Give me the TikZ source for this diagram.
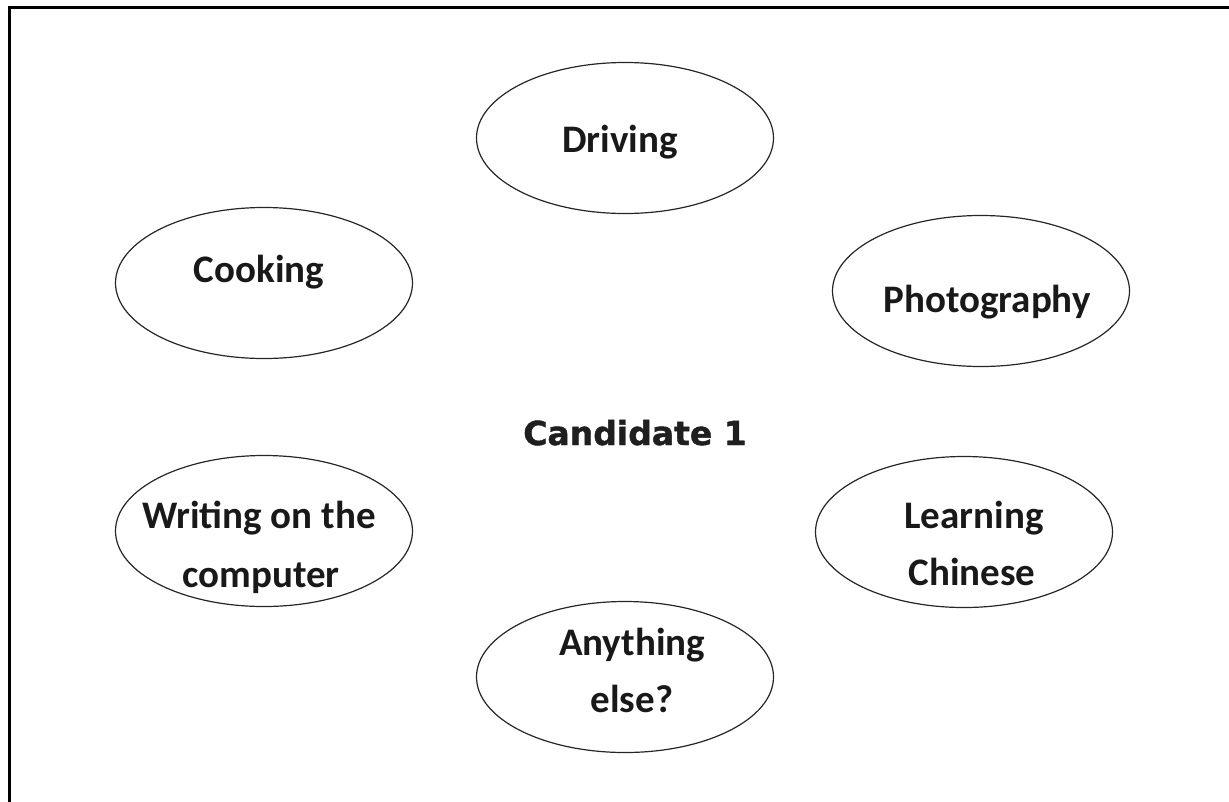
\documentclass[tikz,border=0pt]{standalone}
\usepackage{fontspec}
\setmainfont{Carlito}
\newfontfamily\candfont[FakeBold=1.3]{DejaVu Sans Bold}
\usetikzlibrary{shapes.geometric}
\begin{document}
\begin{tikzpicture}[x=1pt,y=-1pt,
  oval/.style={draw=black!85,line width=1.2pt,ellipse,minimum width=297pt,minimum height=151pt,inner sep=0pt},
  lbl/.style={font=\fontsize{39}{47}\selectfont\bfseries,anchor=base,inner sep=0pt,text=black!90},
  cand/.style={font=\candfont\fontsize{33}{40}\selectfont,anchor=base,inner sep=0pt,text=black!88}]
\useasboundingbox (0,0) rectangle (1229,801);
\begin{scope}
\clip (0,0) rectangle (1229,801);
\draw[line width=3pt] (9.2,815) |- (1245,7.8);
\end{scope}
% ellipses
\node[oval] (drv) at (625,138) {};
\node[oval] (cok) at (264,283) {};
\node[oval] (pho) at (981,291) {};
\node[oval] (wri) at (264,531) {};
\node[oval] (lea) at (964,532) {};
\node[oval] (any) at (625,677) {};
% labels
\node[lbl] (tdrv) at (620,152) {Driving};
\node[lbl] (tcok) at (259,282) {Cooking};
\node[lbl] (tpho) at (987,312) {Photography};
\node[lbl] (twri1) at (259,528) {Writing on the};
\node[lbl] (twri2) at (261,587) {computer};
\node[lbl] (tlea1) at (974,528) {Learning};
\node[lbl] (tlea2) at (972,585) {Chinese};
\node[lbl] (tany1) at (632,655) {Anything};
\node[lbl] (tany2) at (632,712) {else?};
\node[cand] (cand) at (635,445) {Candidate 1};
\end{tikzpicture}
\end{document}
